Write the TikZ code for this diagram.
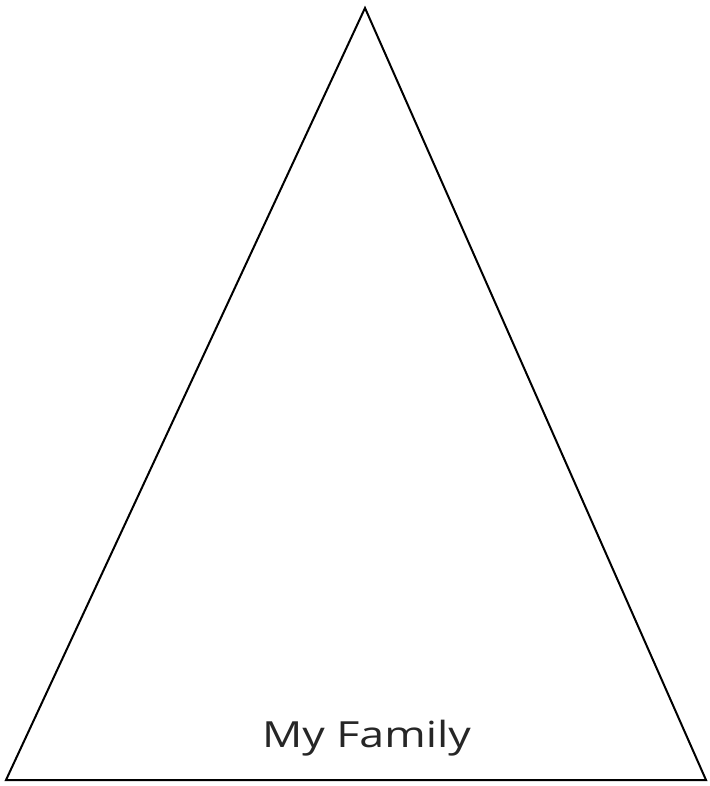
\documentclass[tikz,border=0pt]{standalone}
\usepackage{fontspec}
\setmainfont{Open Sans}
\begin{document}
\begin{tikzpicture}[x=1pt,y=-1pt,
  tri/.style={draw=black,line width=2pt,line join=miter},
  label/.style={font=\fontsize{36}{43}\selectfont,text=black!85,inner sep=0pt,anchor=base,xscale=1.24}]
\useasboundingbox (0,0) rectangle (709,786);
\coordinate (apex) at (365,8);
\coordinate (bl) at (6,780);
\coordinate (br) at (706,780);
\draw[tri] (apex) -- (br) -- (bl) -- cycle;
\node[label] (title) at (366.5,747.8) {My Family};
\end{tikzpicture}
\end{document}
